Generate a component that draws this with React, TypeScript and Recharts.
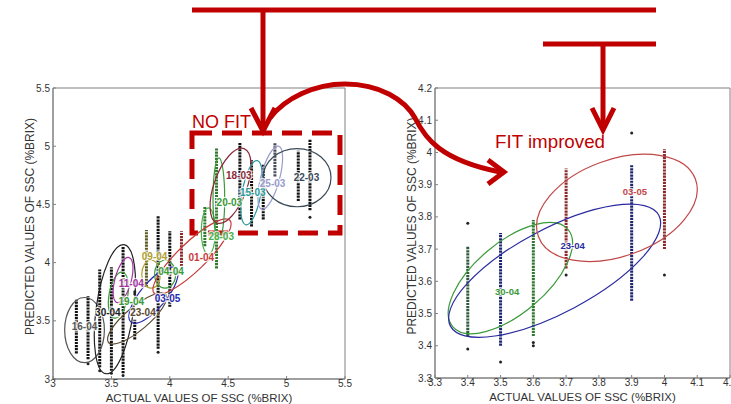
import React from "react";
import { ScatterChart, Scatter, XAxis, YAxis, ReferenceArea } from "recharts";

// ---------- left panel: all sampling dates ----------
const L_TICKS = [3, 3.5, 4, 4.5, 5, 5.5];
const L_COL_X = [3.2, 3.3, 3.4, 3.5, 3.6, 3.7, 3.8, 3.9, 4.0, 4.1, 4.3, 4.4, 4.6, 4.7, 4.8, 4.9, 5.1, 5.2];
const L_COL_LO = [3.22, 3.17, 3.1, 3.07, 3.05, 3.34, 3.79, 3.26, 3.62, 3.97, 4.14, 3.95, 4.37, 4.31, 4.37, 4.74, 4.53, 4.45];
const L_COL_HI = [3.68, 3.71, 3.94, 3.96, 4.14, 3.51, 4.28, 4.4, 4.27, 4.27, 4.48, 4.98, 5.03, 4.88, 4.85, 5.03, 4.96, 5.06];
const L_COL_TONE = ["k", "k", "k", "k", "k", "k", "o", "k", "k", "r", "g", "g", "k", "k", "k", "s", "k", "k"];
const L_DOT_X = [3.4, 3.5, 3.6, 3.9, 3.7, 3.7, 5.2, 4.9, 3.3];
const L_DOT_Y = [3.07, 3.05, 3.03, 3.23, 3.75, 3.73, 4.39, 4.68, 3.13];

const L_NAMES = ["16-04", "30-04", "23-04", "19-04", "11-04", "03-05", "04-04", "09-04", "01-04", "28-03", "20-03", "18-03", "15-03", "25-03", "22-03"];
const L_ELL_X = [3.27, 3.53, 3.72, 3.56, 3.6, 3.86, 3.96, 3.84, 4.19, 4.33, 4.42, 4.52, 4.7, 4.86, 5.09];
const L_ELL_Y = [3.42, 3.6, 3.52, 3.72, 3.85, 3.72, 3.9, 3.9, 4.05, 4.27, 4.55, 4.66, 4.6, 4.73, 4.73];
const L_ELL_RX = [0.17, 0.16, 0.32, 0.08, 0.07, 0.3, 0.09, 0.08, 0.45, 0.06, 0.05, 0.14, 0.08, 0.08, 0.29];
const L_ELL_RY = [0.28, 0.56, 0.1, 0.2, 0.2, 0.11, 0.12, 0.12, 0.12, 0.2, 0.35, 0.34, 0.28, 0.28, 0.25];
const L_ELL_ROT = [0, 8, -40, 10, 15, -50, 0, 0, -44, 0, 0, 20, 10, 15, 0];
const L_LBL_X = [3.27, 3.47, 3.77, 3.67, 3.67, 3.98, 4.01, 3.87, 4.27, 4.44, 4.51, 4.59, 4.71, 4.88, 5.17];
const L_LBL_Y = [3.45, 3.57, 3.57, 3.67, 3.82, 3.69, 3.92, 4.05, 4.04, 4.22, 4.52, 4.75, 4.6, 4.68, 4.73];

// ---------- right panel: selected dates ----------
const R_TICKS = [3.3, 3.4, 3.5, 3.6, 3.7, 3.8, 3.9, 4.0, 4.1, 4.2];
const R_COL_X = [3.4, 3.5, 3.6, 3.7, 3.9, 4.0];
const R_COL_LO = [3.43, 3.4, 3.43, 3.64, 3.54, 3.7];
const R_COL_HI = [3.71, 3.75, 3.79, 3.95, 3.96, 4.01];
const R_COL_TONE = ["dg", "nv", "g", "r", "nv", "r"];
const R_DOT_X = [3.4, 3.4, 3.5, 3.6, 3.6, 3.7, 3.9, 4.0];
const R_DOT_Y = [3.39, 3.78, 3.35, 3.4, 3.41, 3.62, 4.06, 3.62];

const R_NAMES = ["30-04", "23-04", "03-05"];
const R_ELL_X = [3.53, 3.665, 3.855];
const R_ELL_Y = [3.61, 3.633, 3.828];
const R_ELL_RX = [0.23, 0.36, 0.255];
const R_ELL_RY = [0.11, 0.13, 0.15];
const R_ELL_ROT = [-40, -28, -20];
const R_LBL_X = [3.52, 3.72, 3.91];
const R_LBL_Y = [3.57, 3.71, 3.88];

// ---------- styles ----------
const RED = "#c00000";
const TONES: Record<string, string> = {
  k: "#111111",
  g: "#2f7a2f",
  r: "#8a2a2a",
  o: "#5a5a22",
  s: "#4a4a5a",
  dg: "#2f5a3a",
  nv: "#1c2470",
};
const L_COLORS: Record<string, string> = {
  "16-04": "#555555",
  "30-04": "#222222",
  "23-04": "#5a4a30",
  "19-04": "#3a9a3a",
  "11-04": "#a035a0",
  "03-05": "#2a2ab0",
  "04-04": "#3a9a3a",
  "09-04": "#b0a030",
  "01-04": "#c83a3a",
  "28-03": "#4ab04a",
  "20-03": "#3a9a3a",
  "18-03": "#8a2a3a",
  "15-03": "#2a9a9a",
  "25-03": "#9a9ace",
  "22-03": "#3a4a58",
};
const R_COLORS: Record<string, string> = {
  "30-04": "#3a9a3a",
  "23-04": "#2a2aa0",
  "03-05": "#c04848",
};

const H = 404;
const Y_W = 35;
const X_H = 25;
const AXIS = "#808080";
const TICK = { fontSize: 10, fill: "#333" };

type PanelProps = {
  width: number;
  margin: { top: number; right: number; bottom: number; left: number };
  domain: [number, number];
  ticks: number[];
  colX: number[];
  colLo: number[];
  colHi: number[];
  colTone: string[];
  dotX: number[];
  dotY: number[];
  names: string[];
  ellX: number[];
  ellY: number[];
  ellRx: number[];
  ellRy: number[];
  ellRot: number[];
  lblX: number[];
  lblY: number[];
  colors: Record<string, string>;
  lblSize: number;
  children?: React.ReactNode;
};

function Panel(p: PanelProps) {
  const span = p.domain[1] - p.domain[0];
  const kx = (p.width - p.margin.left - p.margin.right - Y_W) / span;
  const ky = (H - p.margin.top - p.margin.bottom - X_H) / span;

  const ells = p.names.map((n, i) => ({ name: n, x: p.ellX[i], y: p.ellY[i], rx: p.ellRx[i], ry: p.ellRy[i], rot: p.ellRot[i] }));
  const labels = p.names.map((n, i) => ({ name: n, x: p.lblX[i], y: p.lblY[i] }));
  const dots = p.dotX.map((x, i) => ({ x, y: p.dotY[i] }));

  return (
    <ScatterChart width={p.width} height={H} margin={p.margin}>
      <XAxis
        type="number"
        dataKey="x"
        domain={p.domain}
        ticks={p.ticks}
        interval={0}
        allowDataOverflow
        height={X_H}
        tickSize={-3}
        tickMargin={4}
        stroke={AXIS}
        tick={TICK}
        label={{ value: "ACTUAL VALUES OF SSC (%BRIX)", position: "insideBottom", offset: 2, fontSize: 11.5, fill: "#333" }}
      />
      <YAxis
        type="number"
        dataKey="y"
        domain={p.domain}
        ticks={p.ticks}
        interval={0}
        allowDataOverflow
        width={Y_W}
        tickSize={-3}
        tickMargin={6}
        stroke={AXIS}
        tick={TICK}
        label={{ value: "PREDICTED VALUES OF SSC (%BRIX)", angle: -90, position: "insideLeft", offset: 12, dy: -7, fontSize: 12, fill: "#333", style: { textAnchor: "middle" } }}
      />
      {/* MATLAB-style box round the plot */}
      <ReferenceArea x1={p.domain[0]} x2={p.domain[1]} y1={p.domain[0]} y2={p.domain[1]} fill="none" stroke={AXIS} strokeWidth={1} />

      {p.colX.map((x, i) => (
        <Scatter
          key={"col" + i}
          data={[{ x, y: p.colLo[i] }, { x, y: p.colHi[i] }]}
          isAnimationActive={false}
          fill={TONES[p.colTone[i]]}
          line={{ stroke: TONES[p.colTone[i]], strokeWidth: 3, strokeDasharray: "2.2 0.9" }}
          shape={() => <g />}
        />
      ))}
      <Scatter
        data={dots}
        isAnimationActive={false}
        shape={(s: any) => <circle cx={s.cx} cy={s.cy} r={1.5} fill="#222" />}
      />
      <Scatter
        data={ells}
        isAnimationActive={false}
        shape={(s: any) => (
          <ellipse
            cx={s.cx}
            cy={s.cy}
            rx={s.payload.rx * kx}
            ry={s.payload.ry * ky}
            transform={`rotate(${s.payload.rot} ${s.cx} ${s.cy})`}
            fill="none"
            stroke={p.colors[s.payload.name]}
            strokeWidth={1.2}
          />
        )}
      />
      <Scatter
        data={labels}
        isAnimationActive={false}
        shape={(s: any) => (
          <text
            x={s.cx}
            y={s.cy}
            textAnchor="middle"
            dominantBaseline="central"
            fontSize={p.lblSize}
            fontWeight="bold"
            fill={p.colors[s.payload.name]}
            stroke="#fff"
            strokeWidth={2.5}
            strokeOpacity={0.8}
            paintOrder="stroke"
          >
            {s.payload.name}
          </text>
        )}
      />
      {p.children}
    </ScatterChart>
  );
}

export default function App() {
  return (
    <div
      style={{
        position: "absolute",
        left: 0,
        top: 0,
        width: 731,
        height: H,
        background: "#fff",
        overflow: "hidden",
        fontFamily: "'Liberation Sans', Arial, sans-serif",
      }}
    >
      <div style={{ position: "absolute", left: 0, top: 0 }}>
        <Panel
          width={360}
          margin={{ top: 88, right: 15, bottom: 0, left: 18 }}
          domain={[3, 5.5]}
          ticks={L_TICKS}
          colX={L_COL_X}
          colLo={L_COL_LO}
          colHi={L_COL_HI}
          colTone={L_COL_TONE}
          dotX={L_DOT_X}
          dotY={L_DOT_Y}
          names={L_NAMES}
          ellX={L_ELL_X}
          ellY={L_ELL_Y}
          ellRx={L_ELL_RX}
          ellRy={L_ELL_RY}
          ellRot={L_ELL_ROT}
          lblX={L_LBL_X}
          lblY={L_LBL_Y}
          colors={L_COLORS}
          lblSize={10}
        >
          <ReferenceArea
            x1={4.19}
            x2={5.457}
            y1={4.254}
            y2={5.113}
            fill="none"
            stroke={RED}
            strokeWidth={5}
            strokeDasharray="20 10"
            ifOverflow="visible"
          />
        </Panel>
      </div>
      <div style={{ position: "absolute", left: 380, top: 0 }}>
        <Panel
          width={351}
          margin={{ top: 88, right: 1, bottom: 1, left: 20 }}
          domain={[3.3, 4.2]}
          ticks={R_TICKS}
          colX={R_COL_X}
          colLo={R_COL_LO}
          colHi={R_COL_HI}
          colTone={R_COL_TONE}
          dotX={R_DOT_X}
          dotY={R_DOT_Y}
          names={R_NAMES}
          ellX={R_ELL_X}
          ellY={R_ELL_Y}
          ellRx={R_ELL_RX}
          ellRy={R_ELL_RY}
          ellRot={R_ELL_ROT}
          lblX={R_LBL_X}
          lblY={R_LBL_Y}
          colors={R_COLORS}
          lblSize={9.5}
        />
      </div>

      {/* red call-outs on top of both panels */}
      <svg width={731} height={H} style={{ position: "absolute", left: 0, top: 0, pointerEvents: "none" }}>
        <g stroke={RED} strokeWidth={5} fill="none" strokeLinejoin="miter">
          <line x1={192} y1={10} x2={656} y2={10} />
          <line x1={263} y1={10} x2={263} y2={128} />
          <polyline points="251,108 263,131 275,108" />
          <line x1={543} y1={44} x2={656} y2={44} />
          <line x1={603} y1={44} x2={603} y2={127} />
          <polyline points="592,108 603,130 614,108" />
          <path d="M 270 118 C 285 98, 315 84, 345 84 C 380 84, 405 100, 415 118 C 425 138, 440 160, 500 172" />
          <polyline points="488,160 504,172 488,184" />
        </g>
        <text x={192} y={128} fontSize={19} fill={RED} textLength={59} lengthAdjust="spacingAndGlyphs">
          NO FIT
        </text>
        <text x={495} y={148} fontSize={18.5} fill={RED} textLength={110} lengthAdjust="spacingAndGlyphs">
          FIT improved
        </text>
      </svg>
    </div>
  );
}
